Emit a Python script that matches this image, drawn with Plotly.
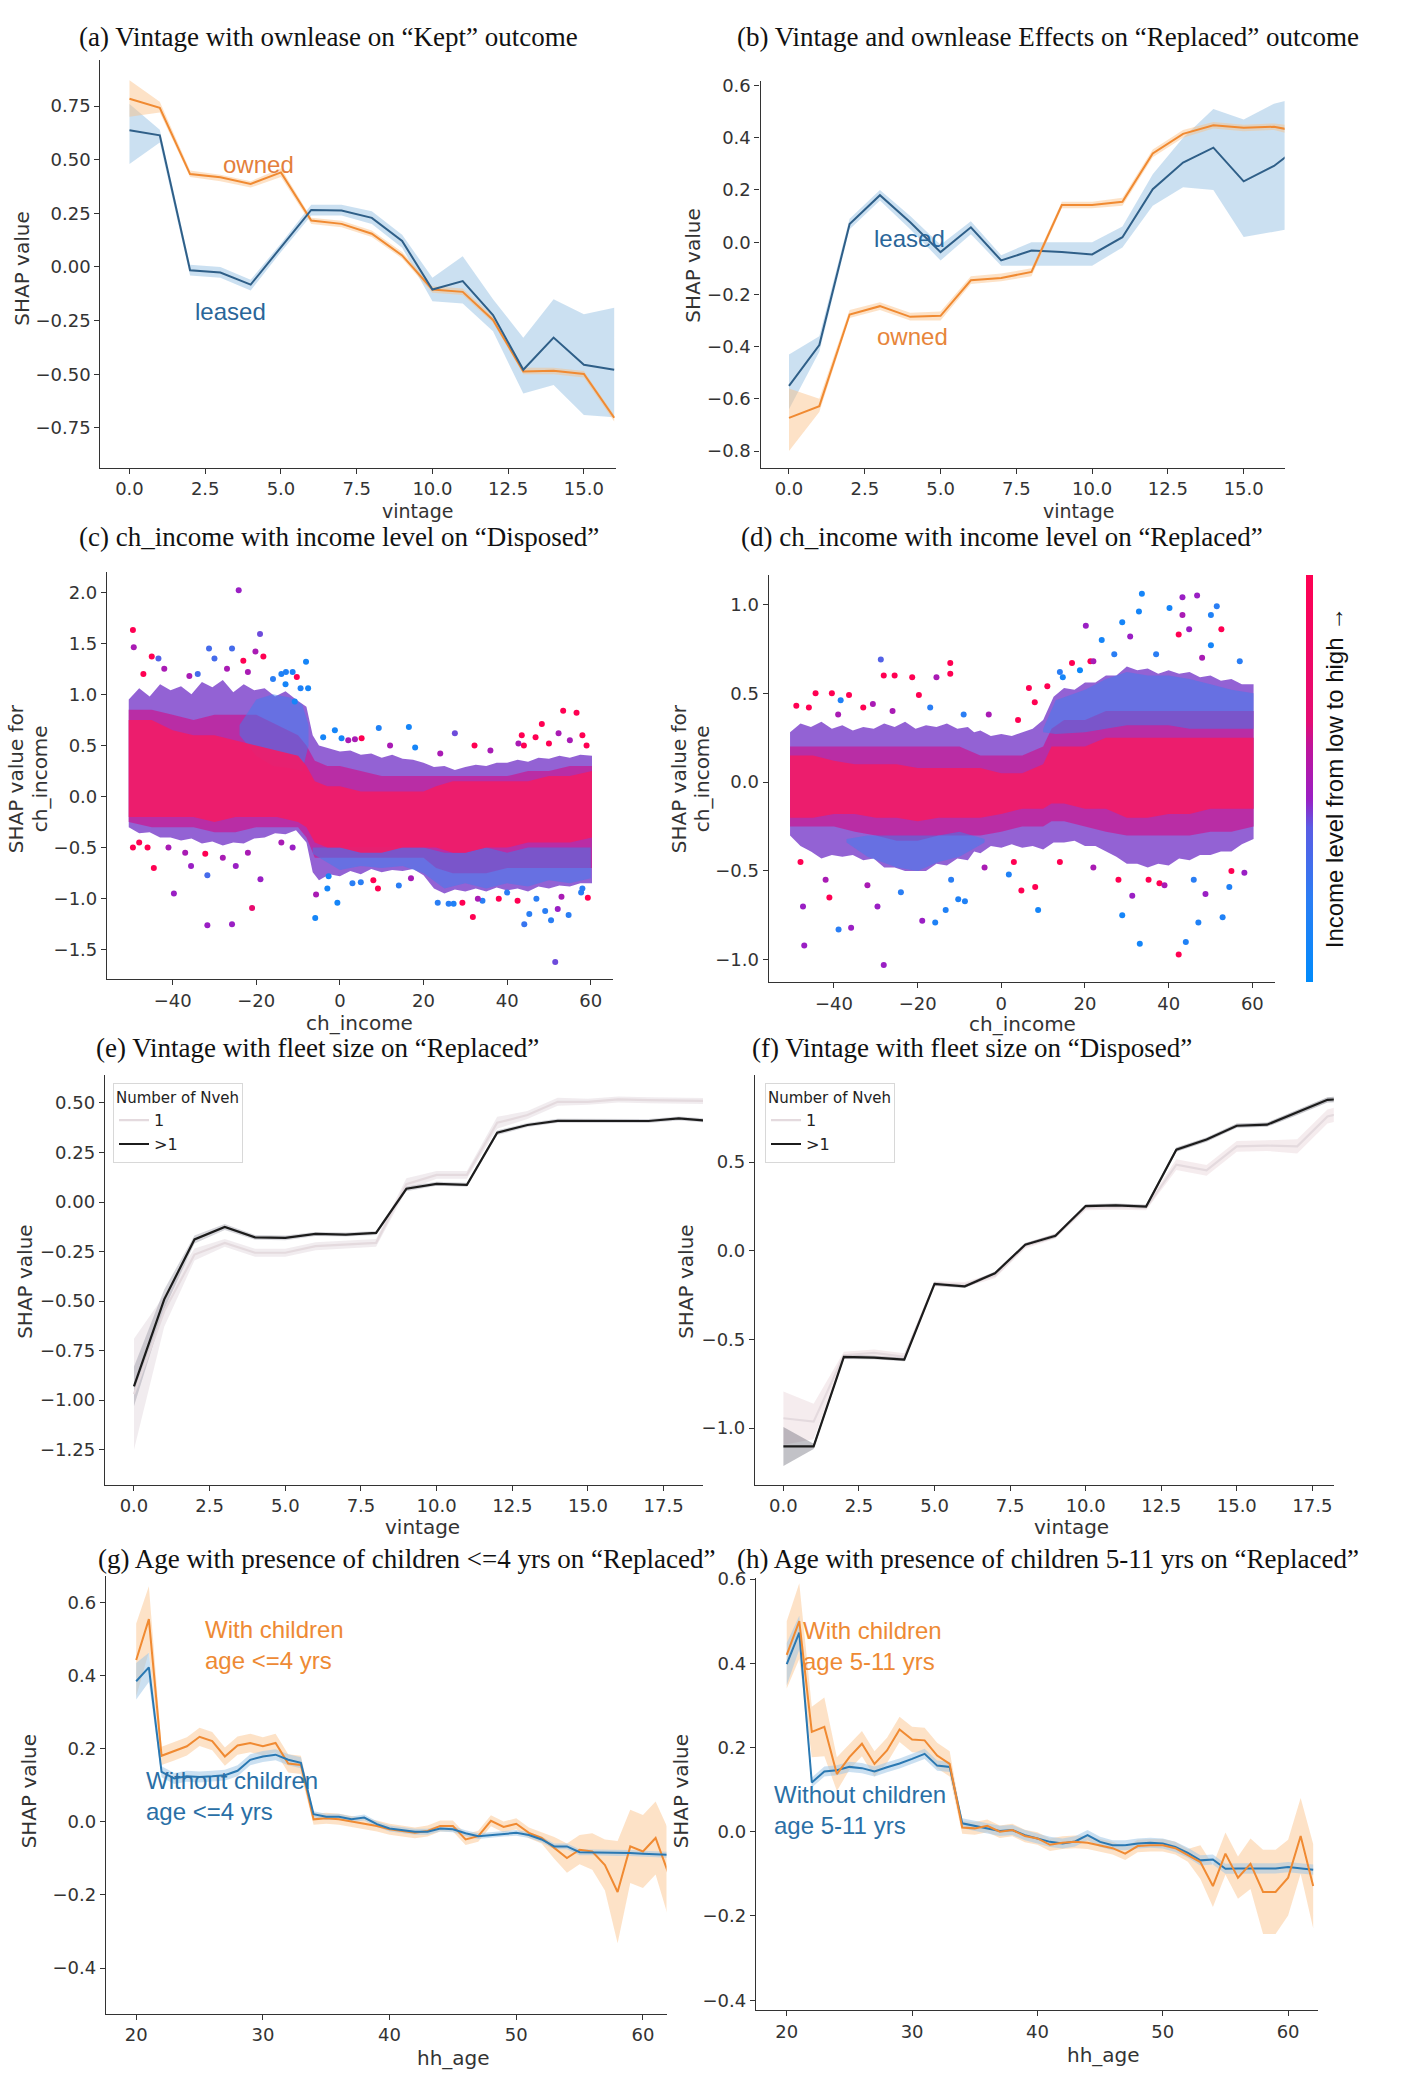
import plotly.graph_objects as go

W, H = 1401, 2074

# ---------------- (a) Kept: vintage x ownlease ----------------
vint_a = list(range(17))
kept_leased = [0.637, 0.614, -0.015, -0.026, -0.082, 0.09, 0.266, 0.263, 0.229, 0.121, -0.105, -0.066, -0.224, -0.479, -0.329, -0.456, -0.479]
kept_leased_lo = [0.48, 0.58, -0.04, -0.05, -0.11, 0.07, 0.24, 0.24, 0.20, 0.09, -0.16, -0.17, -0.30, -0.59, -0.55, -0.69, -0.70]
kept_leased_hi = [0.76, 0.64, 0.01, 0.00, -0.06, 0.11, 0.29, 0.29, 0.26, 0.15, -0.05, 0.05, -0.15, -0.33, -0.15, -0.22, -0.19]
kept_owned = [0.784, 0.742, 0.433, 0.418, 0.387, 0.441, 0.217, 0.201, 0.155, 0.054, -0.105, -0.116, -0.247, -0.487, -0.484, -0.499, -0.703]
kept_owned_lo = [0.70, 0.72, 0.42, 0.40, 0.37, 0.42, 0.20, 0.185, 0.14, 0.04, -0.12, -0.13, -0.26, -0.50, -0.50, -0.515, -0.72]
kept_owned_hi = [0.87, 0.77, 0.45, 0.43, 0.40, 0.46, 0.23, 0.215, 0.17, 0.07, -0.09, -0.10, -0.23, -0.47, -0.47, -0.485, -0.69]

# ---------------- (b) Replaced: vintage x ownlease ----------------
vint_b = list(range(18))
rep_leased = [-0.550, -0.394, 0.070, 0.180, 0.076, -0.038, 0.057, -0.070, -0.032, -0.038, -0.047, 0.019, 0.203, 0.305, 0.362, 0.233, 0.292, 0.38]
rep_leased_lo = [-0.64, -0.42, 0.05, 0.16, 0.05, -0.07, 0.03, -0.09, -0.09, -0.09, -0.09, -0.02, 0.14, 0.21, 0.20, 0.02, 0.04, 0.06]
rep_leased_hi = [-0.43, -0.36, 0.09, 0.20, 0.10, -0.01, 0.08, -0.05, 0.00, 0.00, 0.00, 0.06, 0.26, 0.40, 0.51, 0.47, 0.53, 0.56]
rep_owned = [-0.673, -0.628, -0.277, -0.245, -0.286, -0.282, -0.146, -0.137, -0.114, 0.142, 0.142, 0.155, 0.340, 0.415, 0.448, 0.438, 0.442, 0.42]
rep_owned_lo = [-0.80, -0.65, -0.29, -0.26, -0.30, -0.30, -0.16, -0.15, -0.13, 0.13, 0.13, 0.14, 0.325, 0.40, 0.435, 0.425, 0.43, 0.40]
rep_owned_hi = [-0.56, -0.60, -0.26, -0.23, -0.27, -0.265, -0.13, -0.12, -0.10, 0.155, 0.155, 0.17, 0.355, 0.43, 0.46, 0.45, 0.455, 0.44]

# ---------------- (c) ch_income on Disposed (dense cloud read as envelopes) ----------------
ch_fine = [-50.5, -48, -45.5, -43, -40.5, -38, -35.5, -33, -30.5, -28, -25.5, -23, -20.5, -18, -15.5, -13, -10.5, -8, -6.5, -5,
           -2.5, 0, 2.5, 5, 7.5, 10, 12.5, 15, 17.5, 20, 22.5, 25, 27.5, 30, 32.5, 35, 37.5, 40, 42.5, 45, 47.5, 50, 52.5, 55, 57.5, 60.3]
c_outer_hi = [0.95, 1.06, 0.98, 1.1, 1.04, 1.08, 1.0, 1.12, 1.07, 1.14, 1.02, 1.1, 1.04, 1.06, 0.98, 1.03, 0.95, 0.88, 0.6, 0.5,
              0.47, 0.44, 0.45, 0.41, 0.42, 0.38, 0.41, 0.37, 0.36, 0.33, 0.29, 0.3, 0.26, 0.29, 0.31, 0.3, 0.33, 0.33, 0.36, 0.34, 0.38, 0.37, 0.4, 0.38, 0.41, 0.4]
c_outer_lo = [-0.3, -0.36, -0.35, -0.4, -0.4, -0.43, -0.41, -0.46, -0.44, -0.48, -0.45, -0.46, -0.41, -0.4, -0.36, -0.37, -0.33, -0.45, -0.74, -0.82,
              -0.76, -0.78, -0.73, -0.76, -0.71, -0.74, -0.72, -0.73, -0.71, -0.77, -0.9, -0.95, -0.91, -0.93, -0.9, -0.93, -0.89, -0.92, -0.9, -0.93, -0.88, -0.9, -0.87, -0.88, -0.85, -0.85]
c_env_x = [-50.5, -45, -40, -35, -30, -25, -20, -15, -10, -8, -6, -3, 0, 5, 10, 15, 20, 23, 27, 30, 35, 40, 45, 50, 55, 60.3]
c_mid_hi = [0.85, 0.85, 0.8, 0.75, 0.8, 0.8, 0.8, 0.7, 0.6, 0.5, 0.35, 0.3, 0.3, 0.25, 0.2, 0.2, 0.2, 0.2, 0.2, 0.2, 0.2, 0.2, 0.25, 0.25, 0.3, 0.3]
c_mid_lo = [-0.25, -0.3, -0.3, -0.3, -0.35, -0.35, -0.3, -0.3, -0.3, -0.4, -0.6, -0.6, -0.6, -0.6, -0.6, -0.6, -0.6, -0.7, -0.75, -0.75, -0.75, -0.7, -0.7, -0.7, -0.7, -0.7]
c_core_hi = [0.75, 0.75, 0.65, 0.6, 0.6, 0.55, 0.5, 0.45, 0.4, 0.3, 0.15, 0.1, 0.1, 0.05, 0.05, 0.05, 0.05, 0.1, 0.15, 0.15, 0.15, 0.15, 0.15, 0.2, 0.2, 0.25]
c_core_lo = [-0.2, -0.2, -0.2, -0.2, -0.25, -0.2, -0.2, -0.2, -0.25, -0.3, -0.45, -0.5, -0.5, -0.55, -0.55, -0.5, -0.5, -0.5, -0.55, -0.55, -0.5, -0.5, -0.45, -0.45, -0.45, -0.4]
# blue-heavy patches (low income) inside the cloud
c_blue1_x = [-24, -20, -16, -12, -9, -7.5]
c_blue1_hi = [0.7, 0.95, 1.0, 0.97, 0.9, 0.7]
c_blue1_lo = [0.6, 0.4, 0.3, 0.28, 0.25, 0.5]
c_blue2_x = [-6.5, 0, 5, 10, 15, 20, 25, 30, 35, 40, 45, 50, 55, 60]
c_blue2_hi = [-0.5, -0.5, -0.5, -0.5, -0.5, -0.5, -0.55, -0.55, -0.5, -0.55, -0.5, -0.5, -0.5, -0.5]
c_blue2_lo = [-0.56, -0.72, -0.68, -0.7, -0.68, -0.75, -0.9, -0.85, -0.9, -0.85, -0.88, -0.82, -0.85, -0.8]
c_out_x = [-24.2, -49.5, -49.3, -19.1, -25.8, -31.3, -8.1, -20.2, -18.3, -43.4, -45.0, -23.1, -30.0, -12.9, -11.3, -14.0, -10.3, -7.6, -9.4, -10.8,
           -1.2, 9.3, 16.5, 27.5, 32.2, 43.5, 48.3, 53.4, 56.6, 52.3, 58.0, 46.8, 42.7, 0.4, 5.2, 3.6,
           -49.5, -46.0, -44.5, -39.7, -35.6, -31.7, -32.2, -31.7, -25.8, -21.0, -19.0, -24.9, -11.3, -5.9,
           -5.7, -0.6, -2.7, 9.1, 14.1, 5.0, 29.3, 31.8, 34.1, 27.2, 23.4, 42.5, 44.1, 45.3, 49.1, 50.5, 51.5, 54.7, 52.1, 59.3, 57.7, 40.0,
           -47, -42, -36, -34, -27, -22, -16, -13, -4, 2, 12, 18, 24, 36, 44, 50, 55, 59,
           -48, -41, -37, -28, -22, -14, -3, 3, 8, 17, 26, 33, 38, 47, 53, 58]
c_out_y = [2.02, 1.63, 1.46, 1.59, 1.45, 1.45, 1.32, 1.42, 1.37, 1.35, 1.37, 1.33, 1.35, 1.22, 1.22, 1.20, 1.17, 1.06, 1.06, 0.93,
           0.65, 0.67, 0.68, 0.62, 0.50, 0.60, 0.71, 0.84, 0.82, 0.62, 0.60, 0.58, 0.52, 0.57, 0.57, 0.56,
           -0.50, -0.50, -0.70, -0.95, -0.68, -0.77, -0.56, -1.26, -1.25, -1.09, -0.81, -0.68, -0.50, -1.19,
           -0.96, -1.04, -0.78, -0.90, -0.87, -0.84, -1.04, -1.18, -1.02, -1.05, -1.04, -1.02, -1.25, -1.15, -1.12, -1.21, -1.62, -1.16, -1.10, -0.99, -0.94, -0.94,
           1.2, 1.25, 1.18, 1.2, 1.25, 1.22, 1.15, 1.1, 0.58, 0.55, 0.5, 0.48, 0.42, 0.45, 0.5, 0.52, 0.55, 0.5,
           -0.45, -0.5, -0.55, -0.6, -0.55, -0.45, -0.9, -0.85, -0.82, -0.8, -1.05, -1.0, -1.0, -1.0, -0.98, -0.9]
c_out_c = [0.45, 1.0, 0.5, 0.4, 0.3, 0.3, 0.1, 0.5, 1.0, 0.35, 1.0, 1.0, 0.3, 0.15, 0.15, 0.15, 1.0, 0.1, 0.15, 0.1,
           0.1, 0.15, 0.1, 0.4, 1.0, 1.0, 1.0, 1.0, 1.0, 0.5, 1.0, 1.0, 0.5, 0.1, 1.0, 0.5,
           1.0, 1.0, 1.0, 0.45, 0.45, 0.3, 1.0, 0.45, 0.45, 0.7, 0.45, 0.45, 0.45, 0.1,
           0.5, 0.1, 0.1, 1.0, 0.2, 0.2, 1.0, 1.0, 0.2, 0.15, 0.2, 1.0, 0.25, 0.2, 0.2, 0.2, 0.4, 0.2, 0.45, 1.0, 0.2, 0.2,
           1.0, 0.5, 0.5, 0.3, 0.5, 0.5, 0.2, 0.1, 0.1, 0.5, 0.5, 0.1, 0.5, 0.5, 1.0, 1.0, 0.5, 1.0,
           1.0, 0.5, 0.5, 0.5, 0.5, 0.5, 0.1, 0.2, 1.0, 0.5, 0.2, 0.5, 1.0, 0.2, 0.5, 0.2]

# ---------------- (d) ch_income on Replaced ----------------
d_outer_hi = [0.28, 0.33, 0.31, 0.34, 0.3, 0.32, 0.29, 0.31, 0.3, 0.33, 0.31, 0.34, 0.3, 0.32, 0.31, 0.33, 0.3, 0.31, 0.28, 0.29,
              0.26, 0.27, 0.26, 0.28, 0.3, 0.35, 0.48, 0.53, 0.52, 0.56, 0.56, 0.6, 0.6, 0.65, 0.63, 0.64, 0.61, 0.63, 0.61, 0.62, 0.59, 0.6, 0.57, 0.58, 0.55, 0.55]
d_outer_lo = [-0.3, -0.36, -0.39, -0.43, -0.41, -0.42, -0.41, -0.44, -0.43, -0.48, -0.48, -0.5, -0.5, -0.5, -0.46, -0.47, -0.43, -0.44, -0.39, -0.4,
              -0.36, -0.37, -0.35, -0.37, -0.36, -0.38, -0.34, -0.34, -0.33, -0.36, -0.36, -0.39, -0.42, -0.46, -0.46, -0.48, -0.46, -0.47, -0.43, -0.44, -0.41, -0.41, -0.39, -0.39, -0.35, -0.32]
d_env_x = [-50.5, -45, -40, -35, -30, -25, -20, -15, -10, -5, 0, 5, 10, 12, 15, 20, 25, 30, 35, 40, 45, 50, 55, 60.3]
d_mid_hi = [0.2, 0.2, 0.2, 0.2, 0.2, 0.2, 0.2, 0.2, 0.2, 0.15, 0.15, 0.15, 0.2, 0.3, 0.35, 0.35, 0.4, 0.4, 0.4, 0.4, 0.4, 0.4, 0.4, 0.4]
d_mid_lo = [-0.25, -0.25, -0.25, -0.28, -0.3, -0.33, -0.33, -0.3, -0.3, -0.3, -0.28, -0.25, -0.25, -0.22, -0.22, -0.25, -0.28, -0.3, -0.3, -0.3, -0.3, -0.28, -0.28, -0.25]
d_core_hi = [0.15, 0.15, 0.12, 0.1, 0.1, 0.1, 0.08, 0.08, 0.08, 0.08, 0.05, 0.05, 0.1, 0.2, 0.2, 0.2, 0.25, 0.25, 0.25, 0.25, 0.25, 0.25, 0.25, 0.25]
d_core_lo = [-0.2, -0.2, -0.18, -0.18, -0.2, -0.2, -0.22, -0.2, -0.2, -0.2, -0.18, -0.15, -0.15, -0.12, -0.12, -0.15, -0.15, -0.2, -0.2, -0.18, -0.18, -0.15, -0.15, -0.15]
d_blue1_x = [10, 13, 20, 25, 30, 35, 40, 45, 50, 55, 60.3]
d_blue1_hi = [0.3, 0.46, 0.52, 0.58, 0.62, 0.6, 0.6, 0.58, 0.55, 0.52, 0.5]
d_blue1_lo = [0.28, 0.27, 0.28, 0.3, 0.32, 0.32, 0.32, 0.3, 0.3, 0.3, 0.3]
d_blue2_x = [-37, -32, -25, -20, -15, -10, -4]
d_blue2_hi = [-0.32, -0.3, -0.3, -0.3, -0.3, -0.28, -0.32]
d_blue2_lo = [-0.34, -0.42, -0.48, -0.5, -0.45, -0.42, -0.34]
d_out_x = [-28.8, -28.1, -25.5, -21.3, -12.2, -12.2, -15.5, -49.0, -44.4, -40.5,
           -36.4, -38.4, -30.7, -19.7, 33.6, 43.3, 46.8, 51.5, 40.2, 32.9,
           50.1, 43.3, 20.2, 28.9, 44.9, 52.6, 24.0, 30.8, 42.4, 50.1,
           16.9, 21.3, 11.0, 6.6, 14.7, 18.8,
           -47.1, -28.1, -38.9, -35.9, -29.6, -41.1, -47.4, -15.8, -13.3, -18.9, -10.3, -8.7, 8.8, 4.8,
           8.1, 1.8, 28.9, 33.1, 44.1, 42.4, 47.1, 52.9, 48.8, 58.1, 54.5, 31.3, 35.2, 37.8,
           -46, -39, -33, -26, -17, -9, -3, 4, 8, 14, 22, 27, 37, 48, 57,
           -48, -42, -32, -24, -12, -4, 3, 14, 22, 28, 39, 46, 55]
d_out_y = [0.69, 0.60, 0.60, 0.59, 0.67, 0.61, 0.59, 0.43, 0.50, 0.50,
           0.49, 0.46, 0.44, 0.49, 1.06, 1.04, 1.05, 0.99, 0.98, 0.96,
           0.94, 0.94, 0.88, 0.90, 0.86, 0.86, 0.80, 0.82, 0.83, 0.77,
           0.67, 0.68, 0.54, 0.53, 0.59, 0.63,
           -0.92, -1.03, -0.83, -0.82, -0.70, -0.65, -0.70, -0.79, -0.72, -0.78, -0.66, -0.67, -0.72, -0.61,
           -0.59, -0.52, -0.75, -0.91, -0.90, -0.97, -0.79, -0.76, -0.63, -0.51, -0.59, -0.64, -0.55, -0.57,
           0.42, 0.38, 0.42, 0.4, 0.42, 0.38, 0.38, 0.35, 0.45, 0.62, 0.68, 0.72, 0.72, 0.7, 0.68,
           -0.45, -0.55, -0.58, -0.62, -0.55, -0.48, -0.45, -0.45, -0.48, -0.55, -0.58, -0.55, -0.5]
d_out_c = [0.35, 1.0, 1.0, 1.0, 1.0, 1.0, 0.5, 1.0, 1.0, 1.0,
           1.0, 0.15, 0.5, 1.0, 0.1, 0.45, 0.45, 0.2, 0.1, 0.1,
           0.15, 0.5, 0.45, 0.1, 0.45, 1.0, 0.1, 0.45, 1.0, 0.1,
           1.0, 1.0, 1.0, 1.0, 0.1, 0.05,
           0.45, 0.45, 0.2, 0.45, 0.45, 1.0, 0.45, 0.15, 0.15, 0.45, 0.15, 0.15, 0.1, 1.0,
           1.0, 0.15, 0.1, 0.1, 0.15, 1.0, 0.15, 0.15, 0.45, 0.45, 0.15, 0.45, 1.0, 1.0,
           1.0, 0.5, 1.0, 0.5, 0.2, 0.2, 0.5, 1.0, 1.0, 0.2, 0.5, 0.2, 0.2, 0.5, 0.2,
           1.0, 0.5, 0.5, 0.2, 0.2, 0.5, 1.0, 1.0, 0.5, 1.0, 0.5, 0.2, 1.0]

# ---------------- (e) Replaced: vintage x fleet size ----------------
vint_e = list(range(20))
e_multi = [-0.931, -0.491, -0.189, -0.126, -0.178, -0.181, -0.161, -0.164, -0.156, 0.067, 0.092, 0.087, 0.350, 0.389, 0.410, 0.410, 0.410, 0.409, 0.422, 0.41]
e_multi_hw = [0.10, 0.05, 0.02, 0.015, 0.012, 0.012, 0.01, 0.01, 0.01, 0.012, 0.01, 0.01, 0.012, 0.01, 0.01, 0.01, 0.01, 0.01, 0.01, 0.01]
e_single = [-0.97, -0.55, -0.265, -0.206, -0.256, -0.256, -0.223, -0.214, -0.206, 0.09, 0.137, 0.137, 0.40, 0.439, 0.506, 0.506, 0.518, 0.514, 0.511, 0.51]
e_single_hw = [0.28, 0.08, 0.03, 0.02, 0.02, 0.02, 0.02, 0.02, 0.02, 0.03, 0.02, 0.02, 0.03, 0.02, 0.02, 0.015, 0.015, 0.015, 0.015, 0.015]

# ---------------- (f) Disposed: vintage x fleet size ----------------
vint_f = list(range(20))
f_multi = [-1.103, -1.103, -0.598, -0.602, -0.613, -0.187, -0.200, -0.127, 0.034, 0.084, 0.252, 0.256, 0.249, 0.570, 0.627, 0.705, 0.711, 0.780, 0.851, 0.86]
f_multi_hw = [0.11, 0.015, 0.012, 0.01, 0.01, 0.01, 0.01, 0.01, 0.01, 0.01, 0.01, 0.01, 0.01, 0.012, 0.012, 0.012, 0.012, 0.015, 0.015, 0.015]
f_single = [-0.944, -0.963, -0.589, -0.576, -0.598, -0.187, -0.191, -0.140, 0.028, 0.084, 0.243, 0.247, 0.243, 0.486, 0.453, 0.589, 0.593, 0.589, 0.757, 0.80]
f_single_hw = [0.15, 0.10, 0.02, 0.02, 0.02, 0.015, 0.015, 0.015, 0.015, 0.015, 0.015, 0.015, 0.015, 0.03, 0.03, 0.03, 0.03, 0.04, 0.04, 0.04]

# ---------------- (g) / (h) Replaced: hh_age x children ----------------
ages = list(range(20, 63))
g_without = [0.385, 0.423, 0.137, 0.119, 0.125, 0.123, 0.125, 0.128, 0.14, 0.17,
             0.179, 0.184, 0.17, 0.162, 0.021, 0.014, 0.014, 0.007, 0.012, -0.006,
             -0.018, -0.023, -0.027, -0.027, -0.018, -0.02, -0.031, -0.039, -0.036, -0.032,
             -0.03, -0.036, -0.048, -0.067, -0.067, -0.083, -0.083, -0.083, -0.085, -0.085,
             -0.087, -0.088, -0.09]
g_with = [0.443, 0.555, 0.181, 0.193, 0.207, 0.233, 0.221, 0.179, 0.209, 0.216,
          0.207, 0.216, 0.160, 0.156, 0.007, 0.010, 0.007, 0.001, -0.005, -0.011,
          -0.02, -0.025, -0.03, -0.025, -0.011, -0.011, -0.048, -0.039, 0.003, -0.014,
          -0.005, -0.03, -0.044, -0.071, -0.099, -0.076, -0.081, -0.118, -0.192, -0.067,
          -0.081, -0.044, -0.14]
g_without_hw = [0.05, 0.04] + [0.015] * 12 + [0.008] * 29
g_with_hw = [0.10, 0.09] + [0.025] * 12 + [0.015] * 19 + [0.03, 0.04, 0.04, 0.05, 0.07, 0.14, 0.10, 0.10, 0.10, 0.12]

h_without = [0.398, 0.473, 0.117, 0.143, 0.146, 0.154, 0.151, 0.143, 0.153, 0.162,
             0.173, 0.185, 0.157, 0.154, 0.02, 0.014, 0.008, 0.002, 0.004, -0.008,
             -0.016, -0.024, -0.028, -0.023, -0.008, -0.024, -0.032, -0.032, -0.028, -0.026,
             -0.028, -0.036, -0.05, -0.068, -0.066, -0.088, -0.087, -0.087, -0.087, -0.087,
             -0.084, -0.087, -0.09]
h_with = [0.42, 0.50, 0.237, 0.249, 0.137, 0.177, 0.209, 0.161, 0.193, 0.243,
          0.219, 0.217, 0.181, 0.161, 0.01, 0.008, 0.014, 0.0, 0.004, -0.01,
          -0.016, -0.031, -0.026, -0.024, -0.026, -0.032, -0.039, -0.052, -0.034, -0.032,
          -0.032, -0.039, -0.056, -0.072, -0.129, -0.052, -0.109, -0.076, -0.143, -0.143,
          -0.109, -0.01, -0.129]
h_without_hw = [0.05, 0.04] + [0.012] * 41
h_with_hw = [0.08, 0.09, 0.06, 0.07, 0.04] + [0.03] * 9 + [0.015] * 19 + [0.04, 0.05, 0.05, 0.05, 0.06, 0.10, 0.10, 0.09, 0.09, 0.10]

BLUE_DARK = '#2f5f88'
BLUE = '#2a78b2'
ORANGE = '#f08a32'
BLUE_BAND = 'rgba(160,198,230,0.55)'
ORANGE_BAND = 'rgba(250,190,130,0.45)'
income_scale = [[0, '#008bfb'], [0.2, '#2a7ef4'], [0.38, '#5b5ce4'], [0.45, '#9a1fc4'],
                [0.58, '#c0149a'], [0.64, '#e30c74'], [1, '#ff0052']]

fig = go.Figure()


def band(x, lo, hi, color, n):
    fig.add_trace(go.Scatter(x=list(x) + list(x)[::-1], y=list(hi) + list(lo)[::-1],
                             fill='toself', fillcolor=color, line=dict(width=0), mode='lines',
                             hoverinfo='skip', showlegend=False, xaxis='x' + n, yaxis='y' + n))


def line(x, y, color, n, width=2.0, name=None, legend=None):
    fig.add_trace(go.Scatter(x=x, y=y, mode='lines', line=dict(color=color, width=width),
                             name=name, showlegend=legend is not None, legend=legend,
                             xaxis='x' + n, yaxis='y' + n))


def pm(vals, hw, sign):
    return [v + sign * w for v, w in zip(vals, hw)]


# (a)
band(vint_a, kept_leased_lo, kept_leased_hi, BLUE_BAND, '')
band(vint_a, kept_owned_lo, kept_owned_hi, ORANGE_BAND, '')
line(vint_a, kept_owned, ORANGE, '')
line(vint_a, kept_leased, BLUE_DARK, '')
# (b)
band(vint_b, rep_leased_lo, rep_leased_hi, BLUE_BAND, '2')
band(vint_b, rep_owned_lo, rep_owned_hi, ORANGE_BAND, '2')
line(vint_b, rep_leased, BLUE_DARK, '2')
line(vint_b, rep_owned, ORANGE, '2')

# (c) and (d) clouds
PURPLE_OUT = 'rgba(128,70,205,0.85)'
MAGENTA_MID = 'rgba(190,40,160,0.9)'
BLUE_PATCH = 'rgba(60,125,240,0.5)'
PINK_CORE = 'rgba(240,28,104,0.92)'
for n, outer, mid, blues, core, ox, oy, oc, scale_on in [
    ('3', (ch_fine, c_outer_lo, c_outer_hi), (c_env_x, c_mid_lo, c_mid_hi),
     [(c_blue1_x, c_blue1_lo, c_blue1_hi), (c_blue2_x, c_blue2_lo, c_blue2_hi)],
     (c_env_x, c_core_lo, c_core_hi), c_out_x, c_out_y, c_out_c, False),
    ('4', (ch_fine, d_outer_lo, d_outer_hi), (d_env_x, d_mid_lo, d_mid_hi),
     [(d_blue1_x, d_blue1_lo, d_blue1_hi), (d_blue2_x, d_blue2_lo, d_blue2_hi)],
     (d_env_x, d_core_lo, d_core_hi), d_out_x, d_out_y, d_out_c, True)]:
    band(outer[0], outer[1], outer[2], PURPLE_OUT, n)
    band(mid[0], mid[1], mid[2], MAGENTA_MID, n)
    for bx, blo, bhi in blues:
        band(bx, blo, bhi, BLUE_PATCH, n)
    band(core[0], core[1], core[2], PINK_CORE, n)
    fig.add_trace(go.Scatter(
        x=ox, y=oy, mode='markers', showlegend=False, xaxis='x' + n, yaxis='y' + n,
        marker=dict(size=6, color=oc, colorscale=income_scale, cmin=0, cmax=1, showscale=scale_on,
                    colorbar=dict(thickness=7, len=(976.7 - 567.3) / H, lenmode='fraction',
                                  x=1306 / W, xanchor='left', xpad=0, ypad=0,
                                  y=1 - (567.3 + 976.7) / 2 / H, yanchor='middle',
                                  outlinewidth=0, showticklabels=False, ticks='')
                    if scale_on else None)))

# (e)
band(vint_e, pm(e_single, e_single_hw, -1), pm(e_single, e_single_hw, 1), 'rgba(215,200,210,0.35)', '5')
band(vint_e, pm(e_multi, e_multi_hw, -1), pm(e_multi, e_multi_hw, 1), 'rgba(90,90,110,0.25)', '5')
line(vint_e, e_single, '#e4dade', '5', 2.2, '1', 'legend')
line(vint_e, e_multi, '#1c1c1c', '5', 2.2, '>1', 'legend')
# (f)
band(vint_f, pm(f_single, f_single_hw, -1), pm(f_single, f_single_hw, 1), 'rgba(225,200,205,0.35)', '6')
band(vint_f, pm(f_multi, f_multi_hw, -1), pm(f_multi, f_multi_hw, 1), 'rgba(80,80,95,0.35)', '6')
line(vint_f, f_single, '#e4dade', '6', 2.2, '1', 'legend2')
line(vint_f, f_multi, '#1c1c1c', '6', 2.2, '>1', 'legend2')
# (g)
band(ages, pm(g_with, g_with_hw, -1), pm(g_with, g_with_hw, 1), ORANGE_BAND, '7')
band(ages, pm(g_without, g_without_hw, -1), pm(g_without, g_without_hw, 1), BLUE_BAND, '7')
line(ages, g_with, ORANGE, '7')
line(ages, g_without, BLUE, '7')
# (h)
band(ages, pm(h_with, h_with_hw, -1), pm(h_with, h_with_hw, 1), ORANGE_BAND, '8')
band(ages, pm(h_without, h_without_hw, -1), pm(h_without, h_without_hw, 1), BLUE_BAND, '8')
line(ages, h_without, BLUE, '8')
line(ages, h_with, ORANGE, '8')

# ---------------- axes ----------------
TICKF = dict(family='DejaVu Sans', size=18, color='#333')
base = dict(showline=True, linecolor='#333', linewidth=1.2, ticks='outside', ticklen=5, tickwidth=1.2,
            tickcolor='#333', showgrid=False, zeroline=False, tickfont=TICKF)


def dx(a, b):
    return [a / W, b / W]


def dy(top, bottom):
    return [1 - bottom / H, 1 - top / H]


panels = {
    '':  (dx(100.4, 616), dy(50, 460), [-0.96, 16.06], [-0.936, 0.966], 2.5, '.1f', 0.25, '.2f'),
    '2': (dx(760.5, 1284.6), dy(71.7, 460), [-0.94, 16.35], [-0.864, 0.616], 2.5, '.1f', 0.2, '.1f'),
    '3': (dx(107, 612.5), dy(565, 974), [-55.7, 65.2], [-1.789, 2.195], 20, 'd', 0.5, '.1f'),
    '4': (dx(768.7, 1274.5), dy(567.3, 976.7), [-55.6, 65.3], [-1.125, 1.168], 20, 'd', 0.5, '.1f'),
    '5': (dx(104.9, 703), dy(1070, 1481.7), [-0.96, 18.8], [-1.426, 0.642], 2.5, '.1f', 0.25, '.2f'),
    '6': (dx(755, 1333.8), dy(1070, 1481.7), [-0.94, 18.21], [-1.318, 0.992], 2.5, '.1f', 0.5, '.1f'),
    '7': (dx(105.8, 666.5), dy(1574, 2013.4), [17.6, 61.86], [-0.525, 0.672], 10, 'd', 0.2, '.1f'),
    '8': (dx(755.9, 1318.2), dy(1575.8, 2010), [17.54, 62.4], [-0.424, 0.602], 10, 'd', 0.2, '.1f'),
}
lay = {}
for n, (xd, yd, xr, yr, xdt, xf, ydt, yf) in panels.items():
    lay['xaxis' + n] = dict(base, domain=xd, range=xr, dtick=xdt, tick0=0, tickformat=xf,
                            anchor='y' + n)
    lay['yaxis' + n] = dict(base, domain=yd, range=yr, dtick=ydt, tick0=0, tickformat=yf,
                            anchor='x' + n)


# ---------------- text ----------------
def txt(x, y, s, size, family, color='#333', angle=0, xanchor='center'):
    return dict(x=x / W, y=1 - y / H, xref='paper', yref='paper', text=s, showarrow=False,
                font=dict(size=size, family=family, color=color), textangle=angle,
                xanchor=xanchor, yanchor='middle')


SERIF = 'Liberation Serif, Times New Roman, serif'
SANS = 'DejaVu Sans, sans-serif'
HELV = 'Liberation Sans, Arial, sans-serif'
LAB = 20
ann = [
    txt(328, 27, '(a) Vintage with ownlease on “Kept” outcome', 27, SERIF, '#111'),
    txt(1048, 27, '(b) Vintage and ownlease Effects on “Replaced” outcome', 27, SERIF, '#111'),
    txt(339, 530, '(c) ch_income with income level on “Disposed”', 27, SERIF, '#111'),
    txt(1002, 530, '(d) ch_income with income level on “Replaced”', 27, SERIF, '#111'),
    txt(317, 1043, '(e) Vintage with fleet size on “Replaced”', 27, SERIF, '#111'),
    txt(972, 1043, '(f) Vintage with fleet size on “Disposed”', 27, SERIF, '#111'),
    txt(96, 1557, '(g) Age with presence of children <=4 yrs on “Replaced”', 27, SERIF, '#111', xanchor='left'),
    txt(735, 1557, '(h) Age with presence of children 5-11 yrs on “Replaced”', 27, SERIF, '#111', xanchor='left'),
    # axis labels
    txt(22, 260, 'SHAP value', LAB, SANS, angle=-90),
    txt(693, 257, 'SHAP value', LAB, SANS, angle=-90),
    txt(16, 773, 'SHAP value for', LAB, SANS, angle=-90),
    txt(40, 773, 'ch_income', LAB, SANS, angle=-90),
    txt(679, 773, 'SHAP value for', LAB, SANS, angle=-90),
    txt(702, 773, 'ch_income', LAB, SANS, angle=-90),
    txt(25, 1278, 'SHAP value', LAB, SANS, angle=-90),
    txt(686, 1278, 'SHAP value', LAB, SANS, angle=-90),
    txt(29, 1790, 'SHAP value', LAB, SANS, angle=-90),
    txt(681, 1790, 'SHAP value', LAB, SANS, angle=-90),
    txt(417, 503, 'vintage', 19, SANS),
    txt(1078, 503, 'vintage', 19, SANS),
    txt(359, 1018, 'ch_income', LAB, SANS),
    txt(1022, 1019, 'ch_income', LAB, SANS),
    txt(422, 1524, 'vintage', LAB, SANS),
    txt(1071, 1524, 'vintage', LAB, SANS),
    txt(453, 2058, 'hh_age', LAB, SANS),
    txt(1103, 2055, 'hh_age', LAB, SANS),
    txt(1334, 772, 'Income level from low to high →', 24, HELV, '#111', angle=-90),
]


def dtxt(n, x, y, s, color, xanchor='center'):
    return dict(x=x, y=y, xref='x' + n, yref='y' + n, text=s, showarrow=False, align='left',
                font=dict(size=24, family=HELV, color=color), xanchor=xanchor, yanchor='middle')


ann += [
    dtxt('', 4.27, 0.48, 'owned', '#e47f3c'),
    dtxt('', 3.35, -0.207, 'leased', '#2a6699'),
    dtxt('2', 3.99, 0.013, 'leased', '#2a6699'),
    dtxt('2', 4.06, -0.36, 'owned', '#e7853a'),
    dtxt('7', 25.27, 0.485, 'With children<br>age <=4 yrs', '#ee8a34', 'left'),
    dtxt('7', 20.6, 0.071, 'Without children<br>age <=4 yrs', '#2a6fa6', 'left'),
    dtxt('8', 21.16, 0.441, 'With children<br>age 5-11 yrs', '#ee8a34', 'left'),
    dtxt('8', 18.81, 0.052, 'Without children<br>age 5-11 yrs', '#2a6fa6', 'left'),
]

leg = dict(xanchor='left', yanchor='top', bgcolor='white', bordercolor='#d8d8d8', borderwidth=1,
           title=dict(text='Number of Nveh', font=dict(family=SANS, size=15, color='#222')),
           font=dict(family=SANS, size=16, color='#222'), tracegroupgap=0)

fig.update_layout(
    width=W, height=H, margin=dict(l=0, r=0, t=0, b=0),
    paper_bgcolor='white', plot_bgcolor='white',
    annotations=ann,
    legend=dict(leg, x=113 / W, y=1 - 1078 / H),
    legend2=dict(leg, x=765 / W, y=1 - 1078 / H),
    **lay,
)

# the page's default 8px body margin would shift the whole figure
fig.write_html("out.html", config={'displayModeBar': False},
               post_script="document.body.style.margin='0';")
